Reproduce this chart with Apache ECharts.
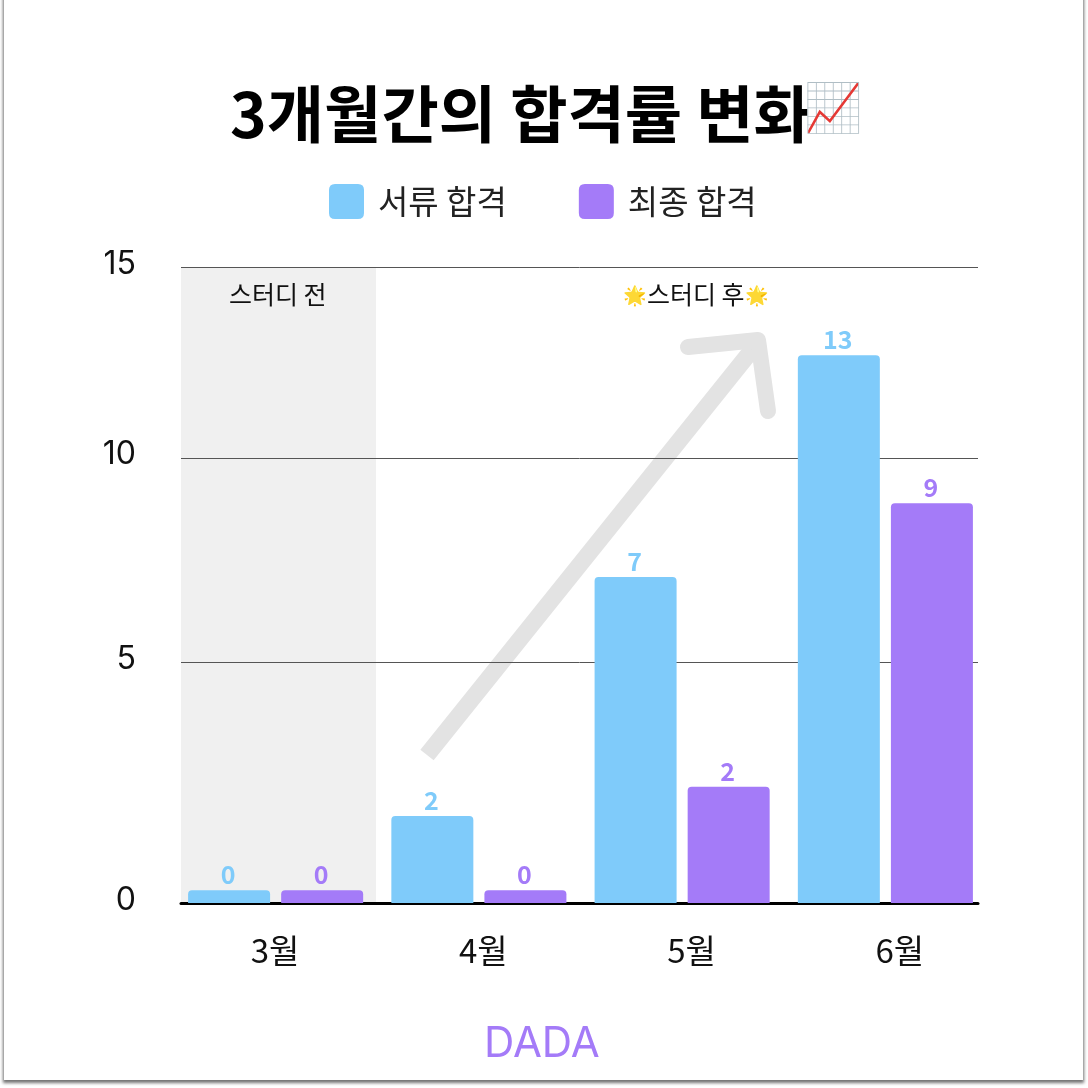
<!DOCTYPE html>
<html><head><meta charset="utf-8">
<script src="https://cdn.jsdelivr.net/npm/echarts@6/dist/echarts.min.js"></script>
<style>
html,body{margin:0;padding:0;width:1088px;height:1088px;background:#fff;overflow:hidden}
#card{position:absolute;left:4px;top:-10px;width:1079px;height:1090px;background:#fff;box-shadow:0 2px 3px 1px rgba(0,0,0,.55)}
#c{position:absolute;left:0;top:0;width:1088px;height:1088px}
</style></head><body>
<div id="card"></div><div id="c"></div>
<script>
var months = ['3월','4월','5월','6월'];
var seriesNames = ['서류 합격','최종 합격'];
var docHeights = [0.3,2.05,7.69,12.92];
var finalHeights = [0.3,0.3,2.74,9.43];
var docLabels = [0,2,7,13];
var finalLabels = [0,0,2,9];
var tickPositions = [0,5.68,10.5,15];
var tickLabels = ['0','5','10','15'];

var FONT='"Noto Sans CJK KR"';
var BLUE='#7fcbfa', PURPLE='#a47bf8';
var top0=267, h0=636;
var swatch='path://M6,0H29Q35,0 35,6V29Q35,35 29,35H6Q0,35 0,29V6Q0,0 6,0Z';
function bar(name,vals,labels,color){
  return {type:'bar',name:name,xAxisIndex:1,yAxisIndex:1,data:vals,barWidth:82,barGap:'13.5%',z:5,
    itemStyle:{color:color,borderRadius:[4,4,0,0]},
    label:{show:true,position:'top',distance:3,offset:[-1,0],color:color,fontFamily:FONT,fontWeight:'bold',fontSize:25,
      formatter:function(p){return labels[p.dataIndex];}}};
}
var chart=echarts.init(document.getElementById('c'),null,{renderer:'canvas',width:1088,height:1088});
chart.setOption({
  backgroundColor:'transparent',animation:false,
  title:[
    {text:'3개월간의 합격률 변화',left:225,top:78,textStyle:{fontFamily:FONT,fontWeight:'bold',fontSize:62.3,color:'#000'}},
    {text:'📈',left:799,top:78,textStyle:{fontFamily:FONT,fontWeight:'normal',fontSize:47}},
    {text:'DADA',left:479,top:1018,textStyle:{fontFamily:'Inter',fontWeight:'normal',fontSize:42,color:PURPLE}},
    {text:'스터디 전',left:224,top:277,textStyle:{fontFamily:FONT,fontWeight:'normal',fontSize:25,color:'#111'}},
    {text:'{e|🌟}{t|스터디 후}{e|🌟}',left:618,top:277,textStyle:{fontWeight:'normal',rich:{
      e:{fontFamily:FONT,fontWeight:'normal',fontSize:19},
      t:{fontFamily:FONT,fontWeight:'normal',fontSize:25,color:'#111'}}}}
  ],
  legend:{data:seriesNames,left:324,top:179,itemWidth:35,itemHeight:35,itemGap:72,icon:swatch,
    textStyle:{fontFamily:FONT,fontSize:33,color:'#222',padding:[-1,0,0,9]}},
  grid:[
    {left:181,width:797,top:top0,height:h0},
    {left:174,width:813,top:top0,height:h0},
    {left:171,width:833,top:top0,height:h0}
  ],
  xAxis:[
    {gridIndex:0,type:'category',data:months,axisLine:{lineStyle:{color:'#000',width:3}},axisTick:{show:false},axisLabel:{show:false}},
    {gridIndex:1,type:'category',data:months,axisLine:{show:false},axisTick:{show:false},axisLabel:{show:false}},
    {gridIndex:2,type:'category',data:months,axisLine:{show:false},axisTick:{show:false},
      axisLabel:{margin:31,color:'#111',fontFamily:FONT,fontSize:33}}
  ],
  yAxis:[
    {gridIndex:0,type:'value',min:0,max:15,axisLine:{show:false},axisTick:{show:false},
      splitLine:{show:false},
      axisLabel:{customValues:tickPositions,margin:45,
        rich:{a:{color:'#111',fontFamily:'"Inter"',fontSize:32,padding:[0,0,6,0]}},
        formatter:function(v){return '{a|'+tickLabels[tickPositions.indexOf(v)]+'}';}}},
    {gridIndex:1,type:'value',min:0,max:15,show:false},
    {gridIndex:2,type:'value',min:0,max:15,show:false}
  ],
  series:[
    bar(seriesNames[0],docHeights,docLabels,BLUE),
    bar(seriesNames[1],finalHeights,finalLabels,PURPLE),
    {type:'line',xAxisIndex:2,yAxisIndex:2,data:[],silent:true},
    {type:'line',xAxisIndex:0,yAxisIndex:0,data:[],silent:true,z:1,
      markLine:{silent:true,symbol:'none',label:{show:false},lineStyle:{color:'#555',width:1,type:'solid'},
        data:tickPositions.slice(1).map(function(v){return {yAxis:v};})}}
  ],
  graphic:[
    {type:'rect',z:-1,silent:true,shape:{x:181,y:267,width:195,height:636},style:{fill:'#f0f0f0'}},
    {type:'polyline',z:3,silent:true,shape:{points:[[427,755],[760,340]]},style:{stroke:'#e3e3e3',lineWidth:17,fill:null,lineCap:'butt'}},
    {type:'polyline',z:3,silent:true,shape:{points:[[688,347],[758,340],[768,411]]},style:{stroke:'#e3e3e3',lineWidth:16,fill:null,lineCap:'round',lineJoin:'round'}}
  ]
});
</script>
</body></html>
